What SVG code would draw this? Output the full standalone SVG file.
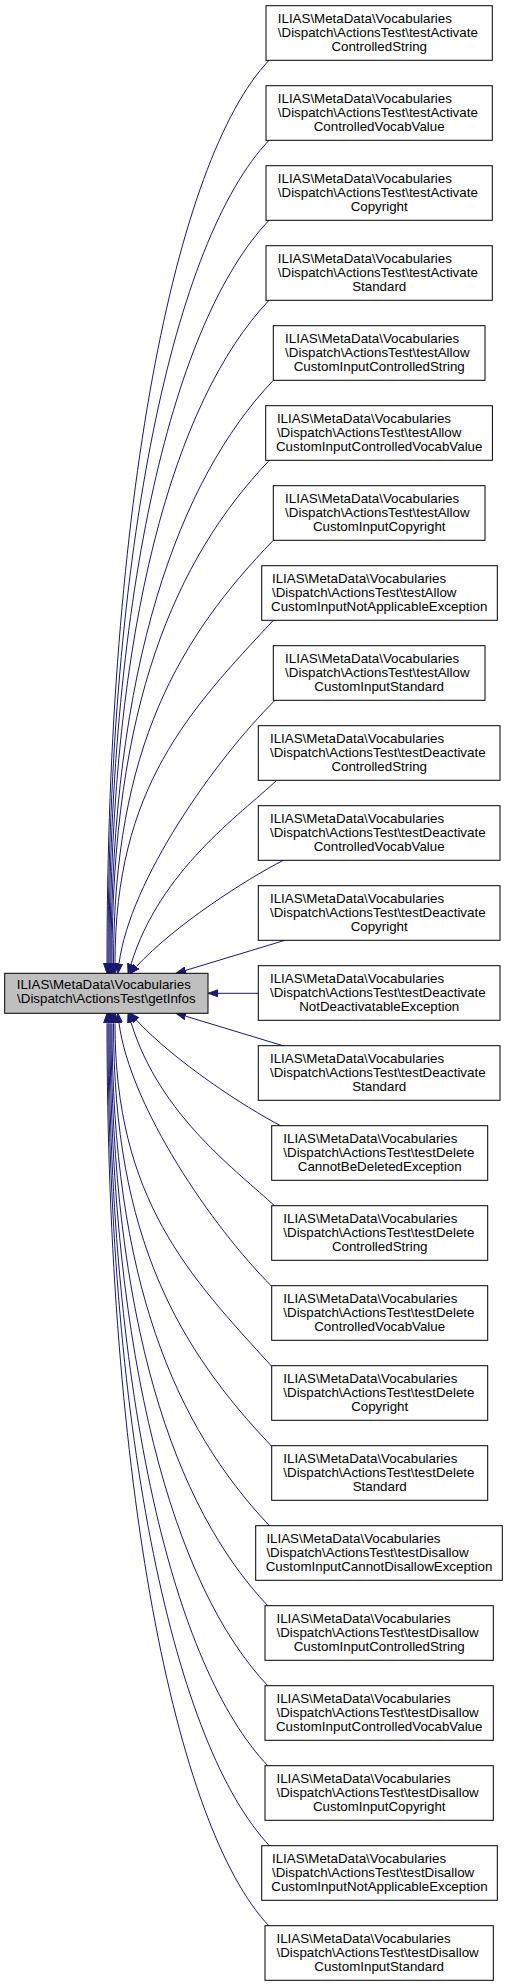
<svg xmlns="http://www.w3.org/2000/svg" width="508" height="1987" viewBox="0 0 508 1987">
<style>
.box{fill:#ffffff;stroke:#000000;stroke-width:1}
.main{fill:#bfbfbf;stroke:#000000;stroke-width:1}
text{font-family:"Liberation Sans",Arial,Helvetica,sans-serif;font-size:13.33px;fill:#000000}
.m{text-anchor:middle}
.e{fill:none;stroke:#191970;stroke-width:1;marker-end:url(#arr)}
</style>
<defs>
<marker id="arr" markerUnits="userSpaceOnUse" viewBox="0 -4.5 11 9" refX="0" refY="0" markerWidth="11" markerHeight="9" orient="auto">
<path d="M0,-3.5 L10,0 L0,3.5 Z" fill="#191970" stroke="#191970" stroke-width="1"/>
</marker>
</defs>
<rect width="508" height="1987" fill="#ffffff"/>
<g id="edges">
<path class="e" d="M269,60.3 C174,160.3 107,506.8 107,963.3"/>
<path class="e" d="M269,140.3 C174,240.3 108,546.8 108,963.3"/>
<path class="e" d="M269,220.3 C174,320.3 109,586.8 109,963.3"/>
<path class="e" d="M269,300.3 C174,400.3 110,626.8 110,963.3"/>
<path class="e" d="M273.3,380.3 C178.3,480.3 111,666.8 111,963.3"/>
<path class="e" d="M269.3,460.3 C174.3,560.3 112,706.8 112,963.3"/>
<path class="e" d="M273.3,540.3 C180,637 113.5,746.8 113.5,963.3"/>
<path class="e" d="M273.3,620.3 C190,710 115,786.8 115,963.3"/>
<path class="e" d="M275,700.3 C215,760 130,880 119,963.7"/>
<path class="e" d="M276.7,780.3 C240,815 160,870 131,964.2"/>
<path class="e" d="M283.3,860.3 C245,880 175,925 136.4,966.5"/>
<path class="e" d="M285,940.3 L185.6,970.4"/>
<path class="e" d="M258.3,993.3 L218,993.3"/>
<path class="e" d="M285,1046.3 L185.6,1016.2"/>
<path class="e" d="M281.7,1126.3 C244,1106.6 175,1061.6 136.4,1020.1"/>
<path class="e" d="M275,1206.3 C238.5,1171.6 160,1116.6 131,1022.4"/>
<path class="e" d="M271.7,1286.3 C212,1226.6 130,1106.6 119,1022.9"/>
<path class="e" d="M271.7,1366.3 C190,1276.6 115,1199.8 115,1023.3"/>
<path class="e" d="M271.7,1446.3 C180,1349.6 113.5,1239.8 113.5,1023.3"/>
<path class="e" d="M270,1526.3 C175,1426.3 112,1279.8 112,1023.3"/>
<path class="e" d="M268.3,1606.3 C173.3,1506.3 111,1319.8 111,1023.3"/>
<path class="e" d="M268.3,1686.3 C173.3,1586.3 110,1359.8 110,1023.3"/>
<path class="e" d="M268.3,1766.3 C173.3,1666.3 109,1399.8 109,1023.3"/>
<path class="e" d="M270,1846.3 C175,1746.3 108,1439.8 108,1023.3"/>
<path class="e" d="M269.3,1926.3 C174.3,1826.3 107,1479.8 107,1023.3"/>
</g>
<g id="main">
<rect class="main" x="4.7" y="973.3" width="203.3" height="40"/>
<text x="16.7" y="989.3">ILIAS\MetaData\Vocabularies</text>
<text class="m" x="106.35" y="1003.3">\Dispatch\ActionsTest\getInfos</text>
</g>
<g id="n0"><rect class="box" x="266" y="5.7" width="226.3" height="54.6"/><text x="277.8" y="22.7">ILIAS\MetaData\Vocabularies</text><text x="277.8" y="36.7">\Dispatch\ActionsTest\testActivate</text><text class="m" x="379.2" y="50.7">ControlledString</text></g>
<g id="n1"><rect class="box" x="266" y="85.7" width="226.3" height="54.6"/><text x="277.8" y="102.7">ILIAS\MetaData\Vocabularies</text><text x="277.8" y="116.7">\Dispatch\ActionsTest\testActivate</text><text class="m" x="379.2" y="130.7">ControlledVocabValue</text></g>
<g id="n2"><rect class="box" x="266" y="165.7" width="226.3" height="54.6"/><text x="277.8" y="182.7">ILIAS\MetaData\Vocabularies</text><text x="277.8" y="196.7">\Dispatch\ActionsTest\testActivate</text><text class="m" x="379.2" y="210.7">Copyright</text></g>
<g id="n3"><rect class="box" x="266" y="245.7" width="226.3" height="54.6"/><text x="277.8" y="262.7">ILIAS\MetaData\Vocabularies</text><text x="277.8" y="276.7">\Dispatch\ActionsTest\testActivate</text><text class="m" x="379.2" y="290.7">Standard</text></g>
<g id="n4"><rect class="box" x="273.3" y="325.7" width="211.7" height="54.6"/><text x="285.1" y="342.7">ILIAS\MetaData\Vocabularies</text><text x="285.1" y="356.7">\Dispatch\ActionsTest\testAllow</text><text class="m" x="379.2" y="370.7">CustomInputControlledString</text></g>
<g id="n5"><rect class="box" x="265.7" y="405.7" width="226.7" height="54.6"/><text x="276.9" y="422.7">ILIAS\MetaData\Vocabularies</text><text x="276.9" y="436.7">\Dispatch\ActionsTest\testAllow</text><text class="m" x="379.2" y="450.7">CustomInputControlledVocabValue</text></g>
<g id="n6"><rect class="box" x="273.3" y="485.7" width="211.7" height="54.6"/><text x="285.1" y="502.7">ILIAS\MetaData\Vocabularies</text><text x="285.1" y="516.7">\Dispatch\ActionsTest\testAllow</text><text class="m" x="379.2" y="530.7">CustomInputCopyright</text></g>
<g id="n7"><rect class="box" x="261.7" y="565.7" width="235.6" height="54.6"/><text x="272" y="582.7">ILIAS\MetaData\Vocabularies</text><text x="272" y="596.7">\Dispatch\ActionsTest\testAllow</text><text class="m" x="379.2" y="610.7">CustomInputNotApplicableException</text></g>
<g id="n8"><rect class="box" x="273.3" y="645.7" width="211.7" height="54.6"/><text x="285.1" y="662.7">ILIAS\MetaData\Vocabularies</text><text x="285.1" y="676.7">\Dispatch\ActionsTest\testAllow</text><text class="m" x="379.2" y="690.7">CustomInputStandard</text></g>
<g id="n9"><rect class="box" x="258.3" y="725.7" width="241.7" height="54.6"/><text x="270" y="742.7">ILIAS\MetaData\Vocabularies</text><text x="270" y="756.7">\Dispatch\ActionsTest\testDeactivate</text><text class="m" x="379.2" y="770.7">ControlledString</text></g>
<g id="n10"><rect class="box" x="258.3" y="805.7" width="241.7" height="54.6"/><text x="270" y="822.7">ILIAS\MetaData\Vocabularies</text><text x="270" y="836.7">\Dispatch\ActionsTest\testDeactivate</text><text class="m" x="379.2" y="850.7">ControlledVocabValue</text></g>
<g id="n11"><rect class="box" x="258.3" y="885.7" width="241.7" height="54.6"/><text x="270" y="902.7">ILIAS\MetaData\Vocabularies</text><text x="270" y="916.7">\Dispatch\ActionsTest\testDeactivate</text><text class="m" x="379.2" y="930.7">Copyright</text></g>
<g id="n12"><rect class="box" x="258.3" y="965.7" width="241.7" height="54.6"/><text x="270" y="982.7">ILIAS\MetaData\Vocabularies</text><text x="270" y="996.7">\Dispatch\ActionsTest\testDeactivate</text><text class="m" x="379.2" y="1010.7">NotDeactivatableException</text></g>
<g id="n13"><rect class="box" x="258.3" y="1045.7" width="241.7" height="54.6"/><text x="270" y="1062.7">ILIAS\MetaData\Vocabularies</text><text x="270" y="1076.7">\Dispatch\ActionsTest\testDeactivate</text><text class="m" x="379.2" y="1090.7">Standard</text></g>
<g id="n14"><rect class="box" x="271.7" y="1125.7" width="216" height="54.6"/><text x="283.3" y="1142.7">ILIAS\MetaData\Vocabularies</text><text x="283.3" y="1156.7">\Dispatch\ActionsTest\testDelete</text><text class="m" x="379.7" y="1170.7">CannotBeDeletedException</text></g>
<g id="n15"><rect class="box" x="271.7" y="1205.7" width="216" height="54.6"/><text x="283.3" y="1222.7">ILIAS\MetaData\Vocabularies</text><text x="283.3" y="1236.7">\Dispatch\ActionsTest\testDelete</text><text class="m" x="379.7" y="1250.7">ControlledString</text></g>
<g id="n16"><rect class="box" x="271.7" y="1285.7" width="216" height="54.6"/><text x="283.3" y="1302.7">ILIAS\MetaData\Vocabularies</text><text x="283.3" y="1316.7">\Dispatch\ActionsTest\testDelete</text><text class="m" x="379.7" y="1330.7">ControlledVocabValue</text></g>
<g id="n17"><rect class="box" x="271.7" y="1365.7" width="216" height="54.6"/><text x="283.3" y="1382.7">ILIAS\MetaData\Vocabularies</text><text x="283.3" y="1396.7">\Dispatch\ActionsTest\testDelete</text><text class="m" x="379.7" y="1410.7">Copyright</text></g>
<g id="n18"><rect class="box" x="271.7" y="1445.7" width="216" height="54.6"/><text x="283.3" y="1462.7">ILIAS\MetaData\Vocabularies</text><text x="283.3" y="1476.7">\Dispatch\ActionsTest\testDelete</text><text class="m" x="379.7" y="1490.7">Standard</text></g>
<g id="n19"><rect class="box" x="255.7" y="1525.7" width="246.6" height="54.6"/><text x="266.4" y="1542.7">ILIAS\MetaData\Vocabularies</text><text x="266.4" y="1556.7">\Dispatch\ActionsTest\testDisallow</text><text class="m" x="379" y="1570.7">CustomInputCannotDisallowException</text></g>
<g id="n20"><rect class="box" x="265" y="1605.7" width="228.3" height="54.6"/><text x="276.5" y="1622.7">ILIAS\MetaData\Vocabularies</text><text x="276.5" y="1636.7">\Dispatch\ActionsTest\testDisallow</text><text class="m" x="379.2" y="1650.7">CustomInputControlledString</text></g>
<g id="n21"><rect class="box" x="265" y="1685.7" width="228.3" height="54.6"/><text x="276.5" y="1702.7">ILIAS\MetaData\Vocabularies</text><text x="276.5" y="1716.7">\Dispatch\ActionsTest\testDisallow</text><text class="m" x="379.2" y="1730.7">CustomInputControlledVocabValue</text></g>
<g id="n22"><rect class="box" x="265" y="1765.7" width="228.3" height="54.6"/><text x="276.5" y="1782.7">ILIAS\MetaData\Vocabularies</text><text x="276.5" y="1796.7">\Dispatch\ActionsTest\testDisallow</text><text class="m" x="379.2" y="1810.7">CustomInputCopyright</text></g>
<g id="n23"><rect class="box" x="261.7" y="1845.7" width="235.6" height="54.6"/><text x="272" y="1862.7">ILIAS\MetaData\Vocabularies</text><text x="272" y="1876.7">\Dispatch\ActionsTest\testDisallow</text><text class="m" x="379.5" y="1890.7">CustomInputNotApplicableException</text></g>
<g id="n24"><rect class="box" x="265" y="1925.7" width="228.3" height="54.6"/><text x="276.5" y="1942.7">ILIAS\MetaData\Vocabularies</text><text x="276.5" y="1956.7">\Dispatch\ActionsTest\testDisallow</text><text class="m" x="379.2" y="1970.7">CustomInputStandard</text></g>
</svg>
